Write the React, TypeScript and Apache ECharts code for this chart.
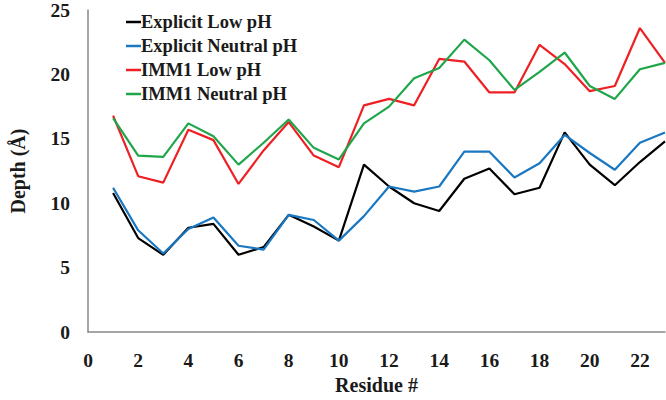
import React, { useEffect, useRef } from "react";
import * as echarts from "echarts";

const residues = [1, 2, 3, 4, 5, 6, 7, 8, 9, 10, 11, 12, 13, 14, 15, 16, 17, 18, 19, 20, 21, 22, 23];
const explicitLow = [10.8, 7.3, 6.0, 8.1, 8.4, 6.0, 6.6, 9.1, 8.2, 7.1, 13.0, 11.3, 10.0, 9.4, 11.9, 12.7, 10.7, 11.2, 15.5, 13.0, 11.4, 13.2, 14.8];
const explicitNeutral = [11.2, 7.9, 6.1, 8.0, 8.9, 6.7, 6.4, 9.1, 8.7, 7.1, 9.0, 11.3, 10.9, 11.3, 14.0, 14.0, 12.0, 13.1, 15.3, 13.9, 12.6, 14.7, 15.5];
const immLow = [16.8, 12.1, 11.6, 15.7, 14.9, 11.5, 14.1, 16.3, 13.7, 12.8, 17.6, 18.1, 17.6, 21.2, 21.0, 18.6, 18.6, 22.3, 20.8, 18.7, 19.1, 23.6, 20.9];
const immNeutral = [16.6, 13.7, 13.6, 16.2, 15.2, 13.0, 14.7, 16.5, 14.3, 13.4, 16.2, 17.5, 19.7, 20.5, 22.7, 21.1, 18.8, 20.2, 21.7, 19.1, 18.1, 20.4, 20.9];

const seriesNames = ["Explicit Low pH", "Explicit Neutral pH", "IMM1 Low pH", "IMM1 Neutral pH"];
const seriesData = [explicitLow, explicitNeutral, immLow, immNeutral];
const colors = ["#000000", "#1a78c2", "#ee2024", "#1fa64a"];

const font = "'Liberation Serif', 'Times New Roman', serif";

export default function App() {
  const ref = useRef<HTMLDivElement>(null);
  useEffect(() => {
    if (!ref.current) return;
    const chart = echarts.init(ref.current, null, { renderer: "svg" });
    chart.setOption({
      animation: false,
      color: colors,
      grid: { left: 88, right: 1, top: 9, bottom: 61 },
      legend: {
        orient: "vertical",
        left: 121,
        top: 7.5,
        icon: "rect",
        itemWidth: 15,
        itemHeight: 2.5,
        itemGap: 5,
        textStyle: { fontFamily: font, fontWeight: "bold", fontSize: 18.5, color: "#1a1a1a", padding: [0, 0, 0, -5] },
        data: seriesNames,
      },
      xAxis: {
        type: "value",
        min: 0,
        max: 23,
        interval: 2,
        name: "Residue #",
        nameLocation: "middle",
        nameGap: 37,
        nameTextStyle: { fontFamily: font, fontWeight: "bold", fontSize: 20, color: "#1a1a1a" },
        axisLine: { show: true, lineStyle: { color: "#888", width: 1.5 } },
        axisTick: { show: false },
        splitLine: { show: false },
        axisLabel: { fontFamily: font, fontWeight: "bold", fontSize: 19.5, color: "#1a1a1a", margin: 18, showMaxLabel: false },
      },
      yAxis: {
        type: "value",
        min: 0,
        max: 25,
        interval: 5,
        name: "Depth (Å)",
        nameLocation: "middle",
        nameGap: 60,
        nameTextStyle: { fontFamily: font, fontWeight: "bold", fontSize: 20, color: "#1a1a1a" },
        axisLine: { show: true, lineStyle: { color: "#888", width: 1.5 } },
        axisTick: { show: false },
        splitLine: { show: false },
        axisLabel: { fontFamily: font, fontWeight: "bold", fontSize: 19.5, color: "#1a1a1a", margin: 18 },
      },
      series: seriesNames.map((name, i) => ({
        name,
        type: "line",
        data: residues.map((r, j) => [r, seriesData[i][j]]),
        showSymbol: false,
        lineStyle: { width: 2.2, color: colors[i] },
        itemStyle: { color: colors[i] },
      })),
    });
    return () => chart.dispose();
  }, []);
  return <div ref={ref} style={{ width: 666, height: 400, position: "absolute", left: 0, top: 0 }} />;
}
